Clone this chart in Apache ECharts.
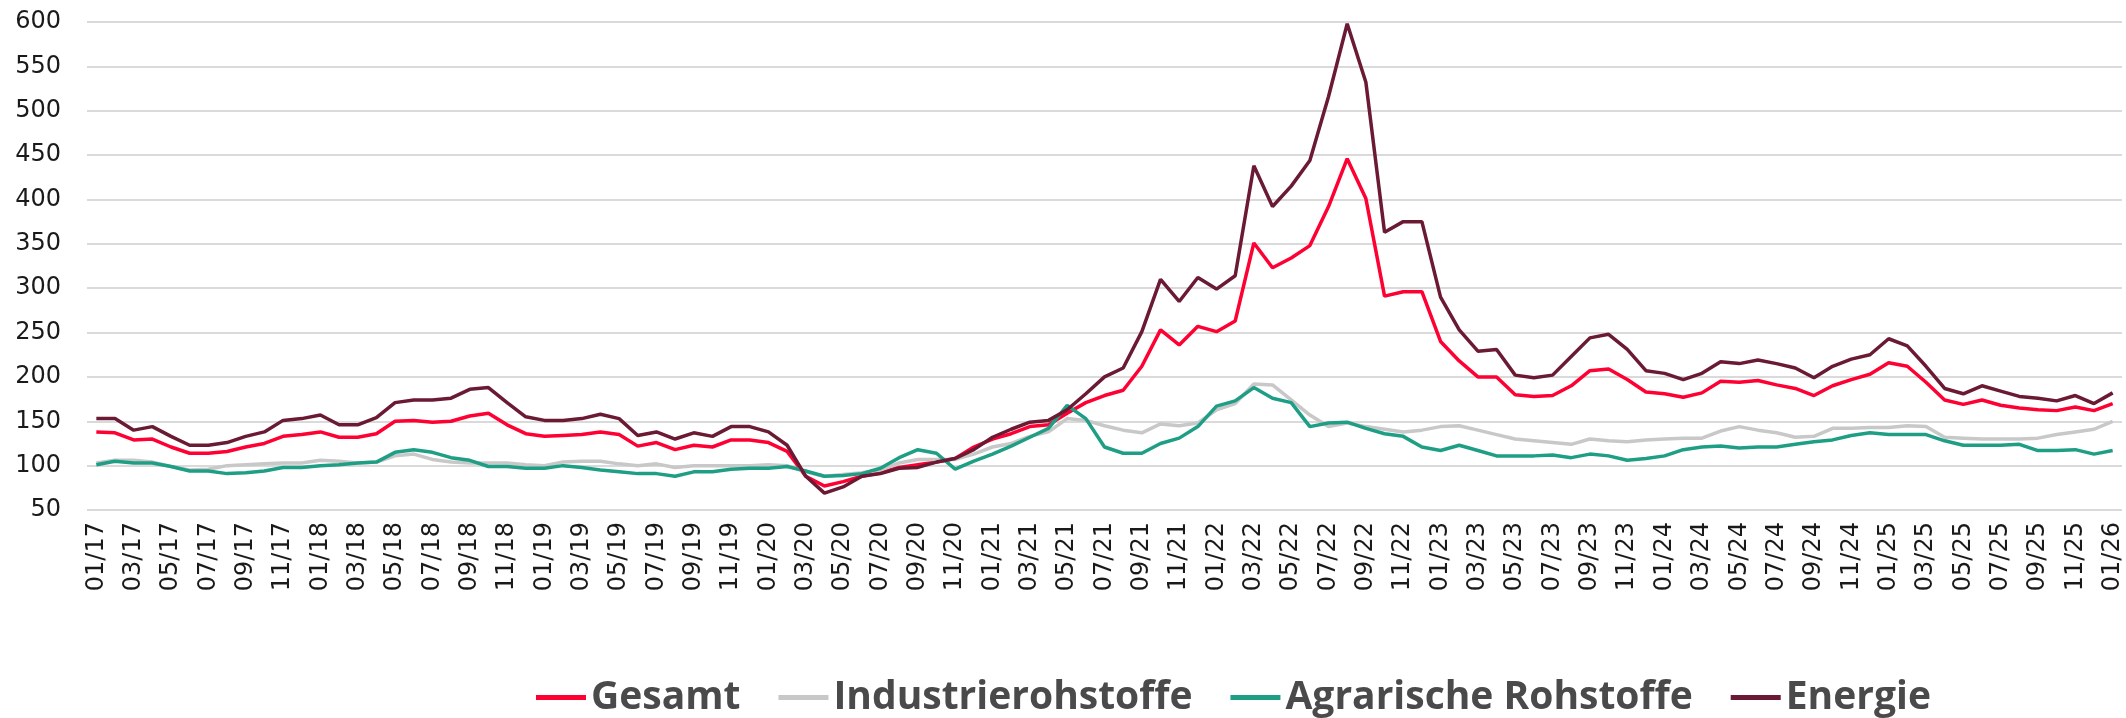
<!DOCTYPE html>
<html lang="de">
<head>
    <meta charset="UTF-8">
    <title>Rohstoffpreise</title>
    <script src="https://cdn.jsdelivr.net/npm/echarts@6/dist/echarts.min.js"></script>
    <style>
        * { margin: 0; padding: 0; }
        body { background: #fff; }
        #main { width: 2126px; height: 718px; }
    </style>
</head>
<body>
    <div id="main"></div>

<script>
    // Monate 01/17 bis 01/26
    var months = [];
    for (var y = 17; y <= 26; y++) {
        for (var m = 1; m <= 12; m++) {
            if (y === 26 && m > 1) break;
            months.push((m < 10 ? '0' + m : '' + m) + '/' + y);
        }
    }

    var gesamt = [
        138, 137, 129, 130, 121, 114, 114, 116, 121, 125, 133, 135, 138, 132, 132, 136, 150, 151, 149,
        150, 156, 159, 146, 136, 133, 134, 135, 138, 135, 122, 126, 118, 123, 121, 129, 129, 126,
        116, 88, 77, 82, 88, 92, 98, 101, 104, 108, 121, 130, 136, 144, 146, 159, 171, 179,
        185, 212, 253, 236, 257, 251, 263, 351, 323, 334, 348, 392, 446, 401, 291, 296, 296, 240,
        218, 200, 200, 180, 178, 179, 190, 207, 209, 197, 183, 181, 177, 182, 195, 194, 196, 191,
        187, 179, 190, 197, 203, 216, 212, 194, 174, 169, 174, 168, 165, 163, 162, 166, 162, 170
    ];
    var industrie = [
        103, 106, 106, 104, 99, 95, 96, 100, 101, 102, 103, 103, 106, 105, 103, 104, 111, 113, 107,
        104, 103, 103, 103, 101, 100, 104, 105, 105, 102, 100, 102, 98, 100, 100, 100, 100, 101,
        100, 93, 88, 90, 92, 95, 103, 107, 107, 107, 113, 121, 125, 133, 138, 153, 151, 145,
        140, 137, 147, 145, 148, 163, 170, 192, 191, 174, 157, 144, 148, 144, 141, 138, 140, 144,
        145, 140, 135, 130, 128, 126, 124, 130, 128, 127, 129, 130, 131, 131, 139, 144, 140, 137,
        132, 133, 142, 142, 143, 143, 145, 144, 132, 131, 130, 130, 130, 131, 135, 138, 141, 150
    ];
    var agrar = [
        101, 105, 103, 103, 99, 94, 94, 91, 92, 94, 98, 98, 100, 101, 103, 104, 115, 118, 115,
        109, 106, 99, 99, 97, 97, 100, 98, 95, 93, 91, 91, 88, 93, 93, 96, 97, 97,
        99, 94, 88, 89, 91, 97, 109, 118, 114, 96, 105, 113, 122, 132, 142, 168, 153, 121,
        114, 114, 125, 131, 144, 167, 173, 188, 176, 171, 144, 148, 149, 142, 136, 133, 121, 117,
        123, 117, 111, 111, 111, 112, 109, 113, 111, 106, 108, 111, 118, 121, 122, 120, 121, 121,
        124, 127, 129, 134, 137, 135, 135, 135, 128, 123, 123, 123, 124, 117, 117, 118, 113, 117
    ];
    var energie = [
        153, 153, 140, 144, 133, 123, 123, 126, 133, 138, 151, 153, 157, 146, 146, 154, 171, 174, 174,
        176, 186, 188, 171, 155, 151, 151, 153, 158, 153, 134, 138, 130, 137, 133, 144, 144, 138,
        123, 88, 69, 76, 88, 91, 97, 98, 104, 108, 118, 132, 141, 149, 151, 163, 181, 200,
        210, 251, 310, 285, 312, 299, 314, 438, 392, 415, 444, 516, 598, 532, 363, 375, 375, 290,
        253, 229, 231, 202, 199, 202, 223, 244, 248, 231, 207, 204, 197, 204, 217, 215, 219, 215,
        210, 199, 212, 220, 225, 243, 235, 212, 187, 181, 190, 184, 178, 176, 173, 179, 170, 182
    ];

    var myChart = echarts.init(document.getElementById('main'));

    function linie(name, data, color) {
        return {
            name: name,
            type: 'line',
            data: data,
            symbol: 'none',
            lineStyle: { width: 3.5, color: color },
            itemStyle: { color: color }
        };
    }

    var option = {
        animation: false,
        backgroundColor: '#fff',
        grid: { left: 87, right: 4, top: 22, bottom: 208 },
        legend: {
            bottom: -4,
            left: 531,
            icon: 'rect',
            itemWidth: 50,
            itemHeight: 5,
            itemGap: 38,
            textStyle: {
                fontFamily: 'Open Sans',
                fontWeight: 'bold',
                fontSize: 39,
                color: '#4a4a4a'
            }
        },
        xAxis: {
            type: 'category',
            data: months,
            boundaryGap: true,
            axisLine: { show: false },
            axisTick: { show: false },
            axisLabel: {
                interval: 1,
                rotate: 90,
                margin: 12,
                fontFamily: 'DejaVu Sans',
                fontSize: 24,
                color: '#1a1a1a'
            }
        },
        yAxis: {
            type: 'value',
            min: 50,
            max: 600,
            interval: 50,
            axisLabel: {
                margin: 26,
                fontFamily: 'DejaVu Sans',
                fontSize: 24,
                color: '#1a1a1a'
            },
            splitLine: { lineStyle: { color: '#dadada', width: 2 } }
        },
        series: [
            linie('Gesamt', gesamt, '#ff0033'),
            linie('Industrierohstoffe', industrie, '#c8c8c8'),
            linie('Agrarische Rohstoffe', agrar, '#1f9e86'),
            linie('Energie', energie, '#6b1a33')
        ]
    };
    myChart.setOption(option);
</script>
</body>
</html>
